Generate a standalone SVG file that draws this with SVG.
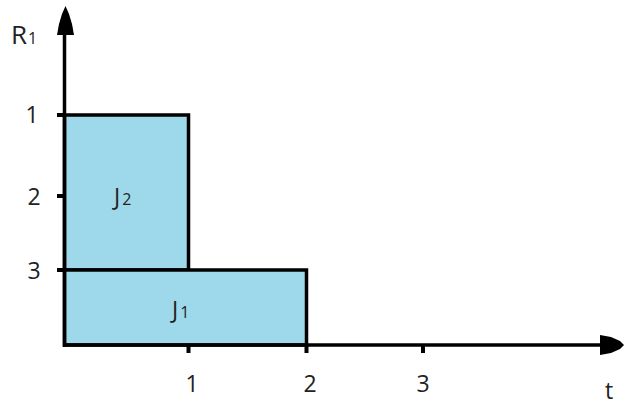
<svg xmlns="http://www.w3.org/2000/svg" width="624" height="405" viewBox="0 0 624 405">
<defs>
<style>
.bar{fill:#9dd9ea;stroke:#000;stroke-width:3.5}
.axis{fill:none;stroke:#000;stroke-width:3.5}
.tick{stroke:#000;stroke-width:4}
.lbl{font-family:"Open Sans","Liberation Sans",Arial,sans-serif;font-size:23px;fill:#222}
.big{font-size:26px}
.sub{font-size:16px}
.head{fill:#000}
</style>
</defs>
<rect width="624" height="405" fill="#fff"/>
<g id="J2">
<rect class="bar" x="64.5" y="115" width="124" height="155"/>
<text class="lbl" x="114" y="205">J<tspan class="sub" dx="2">2</tspan></text>
</g>
<g id="J1">
<rect class="bar" x="64.5" y="270" width="242" height="75"/>
<text class="lbl" x="172" y="318">J<tspan class="sub" dx="2">1</tspan></text>
</g>
<g id="connectors">
<line class="axis" x1="64.5" y1="347" x2="64.5" y2="30"/>
<path class="head" d="M65.5,6 L69,14 L72,24 L74,35 L57,35 L59,24 L62,14 Z"/>
<line class="axis" x1="63" y1="345" x2="602" y2="345"/>
<path class="head" d="M600,335 L611,337 L620,341 L624,345 L620,349 L611,353 L600,355 Z"/>
</g>
<g id="ticks">
<line class="tick" x1="57" y1="115" x2="65" y2="115"/>
<line class="tick" x1="57" y1="196" x2="65" y2="196"/>
<line class="tick" x1="57" y1="270" x2="65" y2="270"/>
<line class="tick" x1="188.5" y1="345" x2="188.5" y2="353"/>
<line class="tick" x1="306.5" y1="345" x2="306.5" y2="353"/>
<line class="tick" x1="423" y1="345" x2="423" y2="353"/>
</g>
<g id="labels">
<text class="lbl big" x="11" y="44">R<tspan class="sub" dx="1">1</tspan></text>
<text class="lbl" x="32" y="123" text-anchor="middle">1</text>
<text class="lbl" x="34" y="205" text-anchor="middle">2</text>
<text class="lbl" x="34" y="279" text-anchor="middle">3</text>
<text class="lbl" x="192" y="392" text-anchor="middle">1</text>
<text class="lbl" x="310" y="392" text-anchor="middle">2</text>
<text class="lbl" x="423" y="392" text-anchor="middle">3</text>
<text class="lbl" x="609" y="399" text-anchor="middle">t</text>
</g>
</svg>
